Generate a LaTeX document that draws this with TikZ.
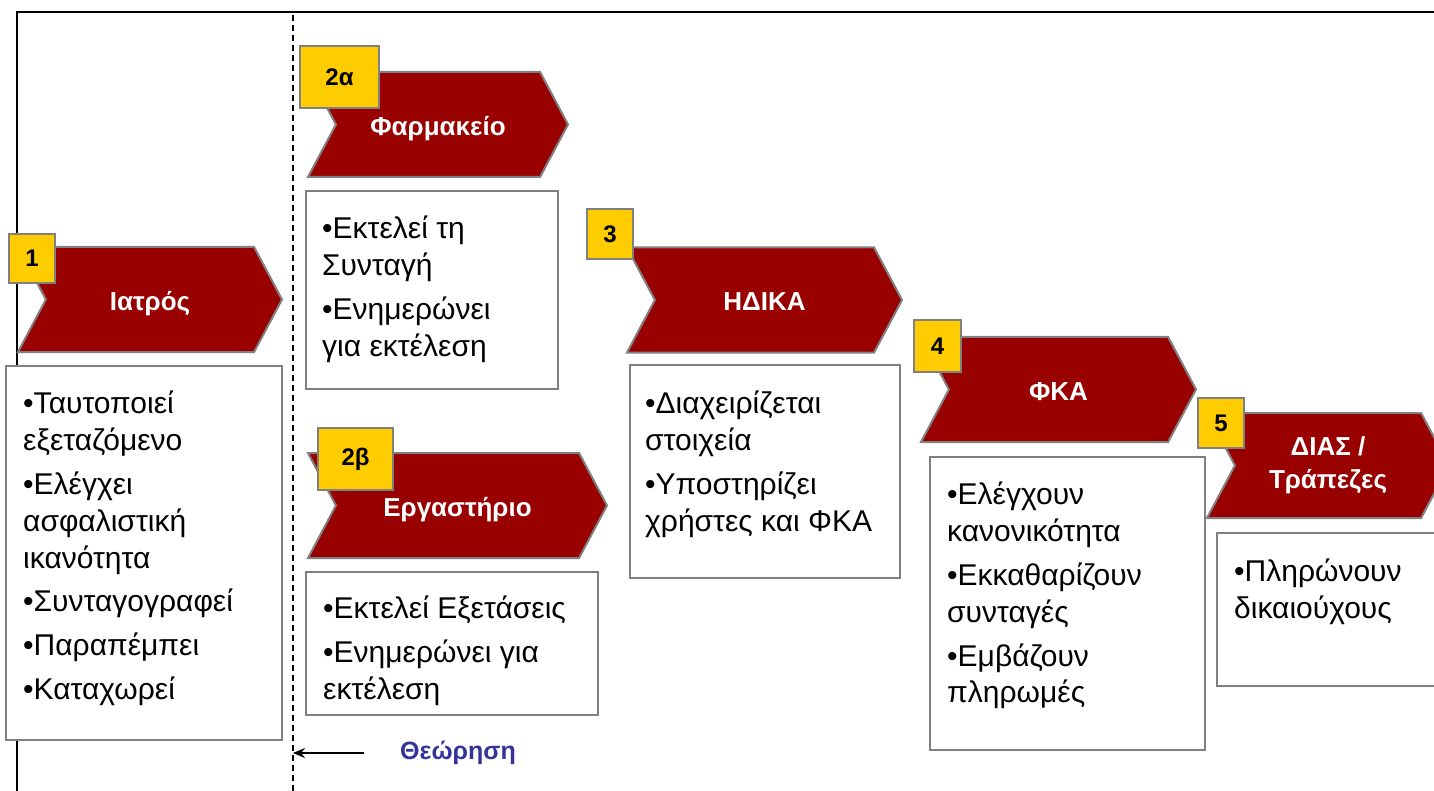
\documentclass[tikz,border=0pt]{standalone}
\usepackage{fontspec}
\setmainfont{Liberation Sans}
\usetikzlibrary{shapes.symbols,positioning,arrows.meta}
\definecolor{chevred}{RGB}{153,0,0}
\definecolor{badgeyellow}{RGB}{255,204,0}
\definecolor{rimgray}{RGB}{128,128,128}
\definecolor{noteblue}{RGB}{51,51,153}
\tikzset{
  chev/.style={signal, signal from=west, signal to=east, signal pointer angle=124,
    fill=chevred, draw=rimgray, line width=2pt, text=white, minimum height=105pt,
    inner sep=0pt, align=center, font=\fontsize{26}{33}\selectfont\bfseries},
  lowtext/.style={text height=26pt, text depth=4pt},
  numbadge/.style={fill=badgeyellow, draw=rimgray, line width=2pt, inner sep=0pt,
    font=\fontsize{24}{28}\selectfont\bfseries},
  infobox/.style={fill=white, draw=rimgray, line width=2pt, inner sep=0pt},
  items/.style={anchor=north west, inner sep=0pt, align=left,
    font=\fontsize{30}{36.8}\selectfont, execute at begin node=\rule{0pt}{24pt}},
}

\begin{document}
\begin{tikzpicture}[x=1pt,y=-1pt]
\clip (0,0) rectangle (1434,791);
% frame and the dashed line
\draw[line width=1.5pt] (1440,12) -| (17,800);
\coordinate (cut top) at (293,15);
\coordinate (cut bottom) at (293,800);
\draw[line width=1.2pt, dash pattern=on 6pt off 4pt] (cut top) -- (cut bottom);

% steps
\node[chev, lowtext, minimum width=264pt] (iatros) at (150,299.5) {Ιατρός};
\node[chev, lowtext, minimum width=260pt] (farmakeio) at (438,124.5) {Φαρμακείο};
\node[chev, lowtext, minimum width=299pt] (ergastirio) at (457.5,505.5) {Εργαστήριο};
\node[chev, lowtext, minimum width=275pt] (idika) at (764.5,300) {ΗΔΙΚΑ};
\node[chev, lowtext, minimum width=275pt] (fka) at (1058.5,389.5) {ΦΚΑ};
\node[chev, minimum width=242pt] (dias) at (1328,465.5) {ΔΙΑΣ /\\Τράπεζες};

% numbers
\node[numbadge, minimum width=46pt, minimum height=49pt] (n1) at (32,258.5) {1};
\node[numbadge, minimum width=79pt, minimum height=62pt] (n2a) at (339.5,77) {2α};
\node[numbadge, minimum width=75pt, minimum height=62pt] (n2b) at (355.5,459) {2β};
\node[numbadge, minimum width=46pt, minimum height=50pt] (n3) at (610,234) {3};
\node[numbadge, minimum width=47pt, minimum height=51pt] (n4) at (937.5,346) {4};
\node[numbadge, minimum width=46pt, minimum height=50pt] (n5) at (1221,423) {5};

% boxes
\node[infobox, minimum width=276pt, minimum height=374pt] (iatros box) at (144,553) {};
\node[infobox, minimum width=252pt, minimum height=198pt] (farmakeio box) at (432,290) {};
\node[infobox, minimum width=292pt, minimum height=143pt] (ergastirio box) at (452,643.5) {};
\node[infobox, minimum width=270pt, minimum height=213pt] (idika box) at (765,471.5) {};
\node[infobox, minimum width=275pt, minimum height=293pt] (fka box) at (1067.5,603.5) {};
\node[infobox, minimum width=263pt, minimum height=153pt] (dias box) at (1348.5,609.5) {};

\node[items] (iatros text) at ([shift={(18,26)}]iatros box.north west) {
  •Ταυτοποιεί\\ εξεταζόμενο\\[7pt]
  •Ελέγχει\\ ασφαλιστική\\ ικανότητα\\[7pt]
  •Συνταγογραφεί\\[7pt]
  •Παραπέμπει\\[7pt]
  •Καταχωρεί};
\node[items] (farmakeio text) at ([shift={(17,26)}]farmakeio box.north west) {
  •Εκτελεί τη\\ Συνταγή\\[7pt]
  •Ενημερώνει\\ για εκτέλεση};
\node[items] (ergastirio text) at ([shift={(18,25)}]ergastirio box.north west) {
  •Εκτελεί Εξετάσεις\\[7pt]
  •Ενημερώνει για\\ εκτέλεση};
\node[items] (idika text) at ([shift={(16,27)}]idika box.north west) {
  •Διαχειρίζεται\\ στοιχεία\\[7pt]
  •Υποστηρίζει\\ χρήστες και ΦΚΑ};
\node[items] (fka text) at ([shift={(18,26)}]fka box.north west) {
  •Ελέγχουν\\ κανονικότητα\\[7pt]
  •Εκκαθαρίζουν\\ συνταγές\\[7pt]
  •Εμβάζουν\\ πληρωμές};
\node[items] (dias text) at ([shift={(18,27)}]dias box.north west) {
  •Πληρώνουν\\ δικαιούχους};

% approval
\node[text=noteblue, font=\fontsize{25}{30}\selectfont\bfseries] (theorisi) at (458,753) {Θεώρηση};
\draw[-{Stealth[length=12pt,width=10pt]}, line width=1.3pt, shorten <=33pt]
  (theorisi.west) -- (theorisi.west -| cut top);
\end{tikzpicture}
\end{document}
